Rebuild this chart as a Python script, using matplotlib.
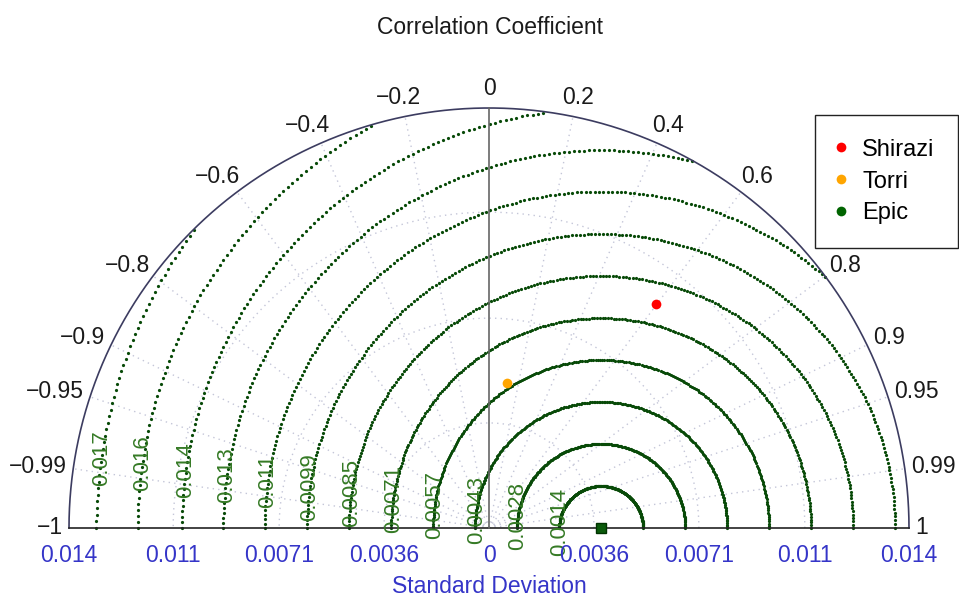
import numpy as np
import matplotlib
matplotlib.use("Agg")
import matplotlib.pyplot as plt

plt.rcParams['font.family'] = ['Liberation Sans', 'DejaVu Sans']

# data
names = ["Shirazi", "Torri", "Epic"]
stds = [0.00947, 0.00495, 0.0038]
corrs = [0.598, 0.124, 1.0]
colors = ["#ff0000", "#ffa500", "#006400"]

ref_std = 0.0038
smax = 0.01423
std_ticks = [0.0, 0.00356, 0.00711, 0.0107, 0.01423]
std_labels = ["0", "0.0036", "0.0071", "0.011", "0.014"]
rms_levels = [0.00142, 0.00285, 0.00427, 0.00569, 0.00711, 0.00854,
              0.00996, 0.0114, 0.0128, 0.0142, 0.0157, 0.0171]
rms_labels = ["0.0014", "0.0028", "0.0043", "0.0057", "0.0071", "0.0085",
              "0.0099", "0.011", "0.013", "0.014", "0.016", "0.017"]
corr_ticks = [-1, -0.99, -0.95, -0.9, -0.8, -0.6, -0.4, -0.2, 0,
              0.2, 0.4, 0.6, 0.8, 0.9, 0.95, 0.99, 1]

fig = plt.figure(figsize=(9.59, 5.99), dpi=100)
ax = fig.add_axes([0, 0, 1, 1])
ax.set_xlim(-489 / 420 * smax, (959 - 489) / 420 * smax)
ax.set_ylim(-71 / 420 * smax, 528 / 420 * smax)
ax.axis("off")
px = smax / 420  # data units per pixel

t = np.linspace(0, np.pi, 400)
grid_col = "#c4c6d8"

# std grid arcs
for s in std_ticks[1:-1]:
    ax.plot(s * np.cos(t), s * np.sin(t), ls=(0, (1, 3)), color=grid_col, lw=1)
# correlation radial lines
for c in corr_ticks:
    if abs(c) in (0, 1):
        continue
    a = np.arccos(c)
    ax.plot([0, smax * np.cos(a)], [0, smax * np.sin(a)], ls=(0, (1, 3)),
            color=grid_col, lw=1)

# rms contours, drawn as dots
td = np.linspace(0, np.pi, 240)
for lev, lab in zip(rms_levels, rms_labels):
    x = ref_std + lev * np.cos(td)
    y = lev * np.sin(td)
    m = np.hypot(x, y) <= smax
    ax.plot(x[m], y[m], ls="none", marker="o", ms=2.3, mec="none",
            color="#084a08")
    a = np.deg2rad(172)
    ax.text(ref_std + lev * np.cos(a), lev * np.sin(a), lab, rotation=90,
            ha="center", va="center", fontsize=16, color="#357a25")

# frame
ax.plot(smax * np.cos(t), smax * np.sin(t), color="#3c3c60", lw=1.2)
ax.plot([-smax, smax], [0, 0], color="#222222", lw=1.2)
ax.plot([0, 0], [0, smax], color="#666666", lw=1.2)

# correlation labels: anchor just outside the arc, box side facing the arc
fig.canvas.draw()
rend = fig.canvas.get_renderer()
for c in corr_ticks:
    a = np.arccos(c)
    txt = ("%g" % c).replace("-", "\u2212")
    tx = ax.text(0, 0, txt, ha="center", va="center", fontsize=16.5,
                 color="#1a1a1a")
    bb = tx.get_window_extent(rend)
    r = smax * (1.015 + 0.012 * np.sin(a))
    u = (1 - np.cos(a)) / 2
    v = 0.5 - 0.5 * np.sin(a)
    cx = r * np.cos(a) + (0.5 - u) * bb.width * px
    cy = r * np.sin(a) + (0.5 - v) * 17 * px
    tx.set_position((cx, cy))

# std labels
for s, lab in zip(std_ticks, std_labels):
    for sg in ([1] if s == 0 else [-1, 1]):
        ax.text(sg * s, -27 * px, lab, ha="center", va="center",
                fontsize=16.5, color="#3535c8")

ax.text(0, -65 * px, "Standard Deviation", ha="center", va="baseline",
        fontsize=16.5, color="#3535c8")
fig.text(490 / 959, 1 - 28 / 599, "Correlation Coefficient", ha="center",
         va="center", fontsize=16.5, color="#1a1a1a")

# models
handles = []
for n, s, c, col in zip(names, stds, corrs, colors):
    a = np.arccos(c)
    h, = ax.plot(s * np.cos(a), s * np.sin(a), ls="none", marker="o", ms=7,
                 mec="none", color=col, label=n)
    handles.append(h)
ax.plot(ref_std, 0, ls="none", marker="s", ms=7, color="#0b5a0b",
        mec="#003300")

leg = ax.legend(handles=handles, loc="upper left",
                bbox_to_anchor=(815 / 959, 1 - 115 / 599),
                bbox_transform=fig.transFigure, frameon=True, fancybox=False,
                edgecolor="#222222", framealpha=1, fontsize=17,
                handlelength=0.2, handletextpad=0.8, borderpad=1.0,
                labelspacing=0.42, borderaxespad=0)
leg.get_frame().set_linewidth(1)

fig.savefig("out.png", dpi=100)
